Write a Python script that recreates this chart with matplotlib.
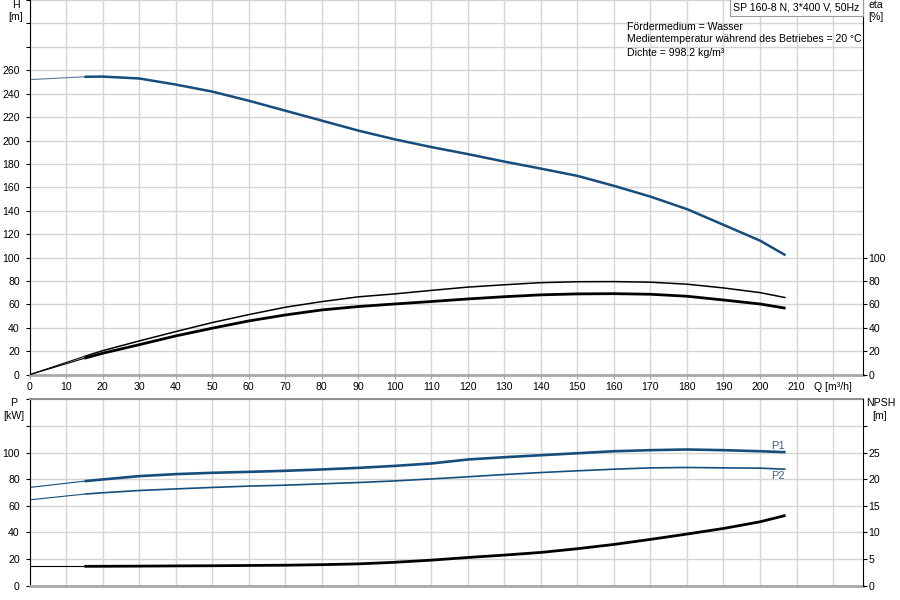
import matplotlib
matplotlib.use("Agg")
import matplotlib.pyplot as plt
import numpy as np

plt.rcParams['font.family'] = ['Liberation Sans', 'DejaVu Sans']
plt.rcParams['font.size'] = 7.6

# flow rate points [m3/h]; 15 marks start of the duty range (thick line)
Q = [0, 15, 20, 30, 40, 50, 60, 70, 80, 90, 100, 110, 120, 130, 140, 150, 160, 170, 180, 190, 200, 207]

H = [252, 254.4, 254.6, 253, 247.8, 241.8, 234, 225.5, 217, 208.5, 201, 194.4, 188.4, 182, 176,
     169.8, 161.3, 152.1, 141.4, 128, 114.5, 102]
eta_pump = [0, 15.6, 20.5, 28.8, 36.8, 44.5, 51.3, 57.6, 62.4, 66.5, 69, 72, 74.8, 76.8, 78.6,
            79.4, 79.5, 79, 77.3, 74.1, 70.1, 65.8]
eta_total = [0, 14, 18.3, 25.6, 33.1, 39.7, 45.9, 51, 55.3, 58.2, 60.4, 62.5, 64.7, 66.6, 68.2,
             69, 69.2, 68.7, 67, 63.8, 60.4, 56.8]
P1 = [73.8, 78.5, 79.8, 82.3, 83.8, 84.8, 85.5, 86.3, 87.3, 88.5, 90, 91.8, 94.8, 96.5, 98,
      99.5, 101, 101.8, 102.3, 101.8, 101, 100.3]
P2 = [64.5, 68.8, 69.8, 71.5, 72.7, 73.8, 74.8, 75.5, 76.5, 77.5, 78.7, 80.2, 81.8, 83.5, 85,
      86.3, 87.5, 88.5, 88.8, 88.5, 88.3, 87.5]
NPSH = [3.64, 3.64, 3.65, 3.68, 3.72, 3.75, 3.8, 3.85, 3.95, 4.1, 4.4, 4.8, 5.3, 5.75, 6.25,
        6.95, 7.75, 8.7, 9.7, 10.75, 12, 13.2]

x_ticks = list(range(0, 230, 10))
x_labels = [str(v) for v in range(0, 220, 10)] + ["Q [m³/h]"]
h_ticks = list(range(0, 340, 20))
h_labels = [str(v) if v <= 260 else "" for v in h_ticks]
eta_ticks = [0, 20, 40, 60, 80, 100]
p_ticks = list(range(0, 160, 20))
p_labels = [str(v) if v <= 100 else "" for v in p_ticks]
npsh_ticks = [0, 5, 10, 15, 20, 25, 30]
npsh_labels = ["0", "5", "10", "15", "20", "25", ""]

title_box = "SP 160-8 N, 3*400 V, 50Hz"
info_lines = ["Fördermedium = Wasser",
              "Medientemperatur während des Betriebes = 20 °C",
              "Dichte = 998.2 kg/m³"]

BLUE = "#164d7c"
BLUE_THIN = "#5a7898"
GRID = "#d4d4d4"
XMAX = 228.2
Q_START = 15


def curve(ax, q, y, color, lw, thin_color=None):
    q = np.asarray(q, float)
    y = np.asarray(y, float)
    m_thin = q <= Q_START
    m_thick = q >= Q_START
    ax.plot(q[m_thin], y[m_thin], color=thin_color or color, lw=0.8, solid_capstyle="butt")
    ax.plot(q[m_thick], y[m_thick], color=color, lw=lw, solid_capstyle="butt",
            solid_joinstyle="round")


def style(ax, yticks, ylabels, ylim):
    ax.set_xlim(0, XMAX)
    ax.set_ylim(*ylim)
    ax.set_xticks(x_ticks)
    ax.set_yticks(yticks)
    ax.set_yticklabels(ylabels)
    ax.grid(True, color=GRID, lw=1)
    ax.set_axisbelow(True)
    ax.tick_params(axis="y", direction="out", length=3, pad=4, colors="black")
    ax.spines["left"].set_color("black")
    ax.spines["bottom"].set_color("#a8a8a8")
    ax.spines["bottom"].set_linewidth(2)
    ax.spines["right"].set_visible(False)


fig = plt.figure(figsize=(9, 6), dpi=100)
ax1 = fig.add_axes([0.0328, 0.3755, 0.9261, 0.6245])
ax2 = fig.add_axes([0.0328, 0.0238, 0.9261, 0.3107])

# ---- top panel: head and efficiency
style(ax1, h_ticks, h_labels, (0, 320))
ax1.spines["top"].set_visible(False)
ax1.set_xticklabels(x_labels)
ax1.tick_params(axis="x", direction="out", length=3, pad=2, color="#a8a8a8")
curve(ax1, Q, H, BLUE, 1.8, BLUE_THIN)

ax1r = ax1.twinx()
ax1r.set_ylim(0, 320)
ax1r.set_yticks(eta_ticks)
ax1r.tick_params(axis="y", direction="out", length=3, pad=1)
for s in ("left", "top", "bottom"):
    ax1r.spines[s].set_visible(False)
ax1r.spines["right"].set_color("black")
curve(ax1r, Q, eta_pump, "black", 1.1)
curve(ax1r, Q, eta_total, "black", 2.0)

# ---- bottom panel: power and NPSH
style(ax2, p_ticks, p_labels, (0, 140))
ax2.spines["top"].set_color("#909090")
ax2.spines["top"].set_linewidth(1.5)
ax2.tick_params(axis="x", length=0, labelbottom=False)
curve(ax2, Q, P1, BLUE, 1.9)
curve(ax2, Q, P2, BLUE, 1.2)
ax2.text(205, 105, "P1", color="#40648e", ha="center", va="center", fontsize=8)
ax2.text(205, 82.3, "P2", color="#40648e", ha="center", va="center", fontsize=8)

ax2r = ax2.twinx()
ax2r.set_ylim(0, 35)
ax2r.set_yticks(npsh_ticks)
ax2r.set_yticklabels(npsh_labels)
ax2r.tick_params(axis="y", direction="out", length=3, pad=1)
for s in ("left", "top", "bottom"):
    ax2r.spines[s].set_visible(False)
ax2r.spines["right"].set_color("black")
curve(ax2r, Q, NPSH, "black", 2.0)

# ---- axis captions
W, Hpx = 900.0, 600.0


def ftext(x, y, s, **kw):
    fig.text(x / W, 1 - y / Hpx, s, va="center", **kw)


ftext(15.5, 5, "H", ha="center")
ftext(16, 17.5, "[m]", ha="center")
ftext(876, 5, "eta", ha="center")
ftext(876, 17.5, "[%]", ha="center")
ftext(13.5, 403, "P", ha="center")
ftext(13.5, 416, "[kW]", ha="center")
ftext(881, 403, "NPSH", ha="center")
ftext(880, 416, "[m]", ha="center")

ftext(733, 7.5, title_box, ha="left",
      bbox=dict(boxstyle="square,pad=0.3", fc="white", ec="#9a9a9a", lw=0.8))
for i, line in enumerate(info_lines):
    ftext(627, 26.5 + i * 13, line, ha="left")

fig.savefig("out.png", dpi=100)
